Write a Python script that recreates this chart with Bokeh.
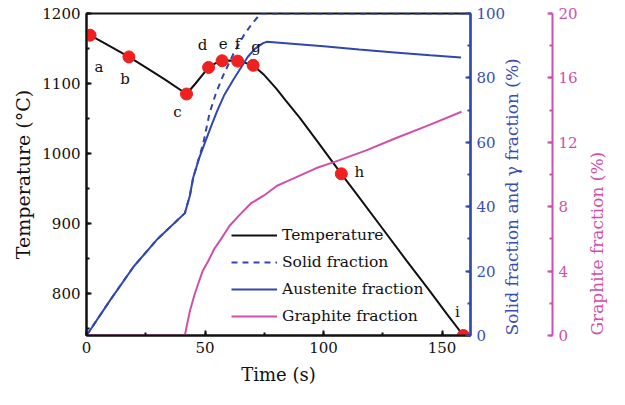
import math
from bokeh.plotting import figure
from bokeh.models import (Range1d, LinearAxis, SingleIntervalTicker, FixedTicker,
                          Legend, LegendItem, ColumnDataSource)
from bokeh.core.properties import value
from bokeh.embed import file_html
from bokeh.resources import INLINE

# ---------------- data ----------------
temp_time = [1.5, 10, 17.9, 25, 33, 42.2, 46, 51.5, 54.5, 57.2, 60.5, 63.75, 67, 70.3,
             75, 80, 84, 90, 97, 107.5, 113.75, 125.5, 135, 144.3, 152, 159]
temp_vals = [1169, 1153, 1138, 1123, 1106, 1085, 1100, 1123, 1129, 1132.5, 1133, 1132, 1129.5, 1126,
             1112, 1093, 1076, 1051, 1019, 971, 943, 890, 847, 806, 771, 740]

solid_time = [0, 10, 20, 30, 41.5, 43.6, 45, 47, 49.2, 51.9, 54.5, 57.5, 62, 66.5, 70, 73.5, 162]
solid_vals = [0, 11, 21.5, 30, 38, 43.4, 49, 54, 59.5, 69, 75, 80.5, 87.5, 93.4, 97, 100, 100]

aus_time = [0, 10, 20, 30, 41.5, 43.6, 45, 47.5, 50, 52.6, 55, 58, 62, 65, 68, 71, 74.5, 76,
            88, 100, 115, 130, 145, 158]
aus_vals = [0, 11, 21.5, 30, 38, 43.4, 49, 55, 60, 65, 69.5, 74.5, 79.5, 83, 86.5, 89, 90.8, 91.2,
            90.5, 89.8, 88.8, 87.9, 87.0, 86.3]

gra_time = [0, 41.5, 42.3, 43.6, 45.5, 47.1, 49, 51.25, 54, 56.8, 60.3, 64, 69.3, 74.9, 80.4, 85,
            97, 105, 118, 130.4, 145, 158.2]
gra_vals = [0, 0, 0.6, 1.5, 2.5, 3.2, 4.0, 4.6, 5.4, 6.0, 6.8, 7.4, 8.2, 8.7, 9.3, 9.6,
            10.4, 10.8, 11.5, 12.25, 13.1, 13.9]

point_time = [1.5, 17.9, 42.2, 51.5, 57.2, 63.75, 70.3, 107.5, 159]
point_temp = [1169, 1138, 1085, 1123, 1132.5, 1132, 1126, 971, 740]
point_labels = ["a", "b", "c", "d", "e", "f", "g", "h", "i"]
# label offsets in screen pixels (style only)
label_dx = [9, -4, -9, -6, 1, 0, 3, 18, -6]
label_dy = [32, 22, 18, -22, -17, -17, -18, -2, -24]

x_min, x_max = 0, 162
t_min, t_max = 740, 1200

# ---------------- styling ----------------
FONT = "DejaVu Serif"
BLACK = "#111111"
BLUE = "#3047B0"
BLUE_TXT = "#3A4DB5"
MAG = "#CF4FAA"
RED = "#EE2020"

p = figure(frame_width=384, frame_height=322,
           x_range=Range1d(x_min, x_max), y_range=Range1d(t_min, t_max),
           output_backend="svg", toolbar_location=None,
           min_border_left=86, min_border_top=13, min_border_bottom=54, min_border_right=139)
p.extra_y_ranges = {"frac": Range1d(0, 100), "gra": Range1d(0, 20)}
p.grid.visible = False
p.outline_line_color = BLACK
p.outline_line_width = 2
p.background_fill_color = "white"
p.border_fill_color = "white"

PROPS = LinearAxis.properties()


def style_axis(ax, color, label_standoff, title_standoff, title_size):
    ax.axis_line_color = color
    ax.axis_line_width = 2
    ax.major_tick_line_color = color
    ax.minor_tick_line_color = color
    ax.major_tick_line_width = 2
    ax.minor_tick_line_width = 2
    ax.major_tick_in = 5
    ax.major_tick_out = 0
    ax.minor_tick_in = 3
    ax.minor_tick_out = 0
    ax.major_label_text_font = FONT
    ax.major_label_text_font_size = "15px"
    ax.major_label_text_color = color
    ax.major_label_standoff = label_standoff
    ax.axis_label_text_font = FONT
    ax.axis_label_text_font_size = title_size
    ax.axis_label_text_font_style = "normal"
    ax.axis_label_text_color = color
    ax.axis_label_standoff = title_standoff


# bottom axis
xa = p.xaxis[0]
xa.ticker = SingleIntervalTicker(interval=50, num_minor_ticks=2)
xa.axis_label = "Time (s)"
style_axis(xa, BLACK, 6, 8, "18px")

# left axis
ya = p.yaxis[0]
ya.ticker = SingleIntervalTicker(interval=100, num_minor_ticks=2)
ya.axis_label = "Temperature (°C)"
style_axis(ya, BLACK, 6, 5, "19px")

# right axis 1 (fractions)
ax_frac = LinearAxis(y_range_name="frac",
                     ticker=SingleIntervalTicker(interval=20, num_minor_ticks=2),
                     axis_label="Solid fraction and γ fraction (%)")
style_axis(ax_frac, BLUE, 6, 4, "17px")
ax_frac.major_label_text_color = BLUE_TXT
ax_frac.axis_label_text_color = BLUE_TXT
p.add_layout(ax_frac, "right")

# spacer axis (invisible, only reserves room between the two right axes)
spacer = LinearAxis(y_range_name="gra", ticker=FixedTicker(ticks=[10]),
                    major_label_overrides={10: ""},
                    axis_line_color=None, major_tick_line_color=None,
                    minor_tick_line_color=None,
                    major_tick_out=17, major_tick_in=0, minor_tick_out=0, minor_tick_in=0,
                    major_label_standoff=0)
p.add_layout(spacer, "right")

# right axis 2 (graphite)
ax_gra = LinearAxis(y_range_name="gra",
                    ticker=SingleIntervalTicker(interval=4, num_minor_ticks=2),
                    axis_label="Graphite fraction (%)")
style_axis(ax_gra, MAG, 6, 16, "17px")
p.add_layout(ax_gra, "right")

if "axis_label_orientation" in PROPS:
    for ax in (ax_frac, ax_gra):
        ax.axis_label_orientation = math.pi / 2
        if "axis_label_align" in PROPS:
            for v in ("start", "left"):
                try:
                    ax.axis_label_align = v
                    break
                except ValueError:
                    pass

# ---------------- glyphs ----------------
r_temp = p.line(temp_time, temp_vals, line_color=BLACK, line_width=2)
r_solid = p.line(solid_time, solid_vals, y_range_name="frac", line_color=BLUE,
                 line_width=2, line_dash="6 5")
r_aus = p.line(aus_time, aus_vals, y_range_name="frac", line_color=BLUE, line_width=2)
r_gra = p.line(gra_time, gra_vals, y_range_name="gra", line_color=MAG, line_width=2)

p.scatter(point_time, point_temp, size=12, fill_color=RED, line_color=RED)

src = ColumnDataSource(dict(x=point_time, y=point_temp, t=point_labels,
                            dx=label_dx, dy=label_dy))
p.text(x="x", y="y", text="t", x_offset="dx", y_offset="dy", source=src,
       text_font=value(FONT), text_font_size="15px", text_color=BLACK,
       text_align="center", text_baseline="middle")

legend = Legend(items=[LegendItem(label="Temperature", renderers=[r_temp]),
                       LegendItem(label="Solid fraction", renderers=[r_solid]),
                       LegendItem(label="Austenite fraction", renderers=[r_aus]),
                       LegendItem(label="Graphite fraction", renderers=[r_gra])],
                location=(145, 9), border_line_color=None, background_fill_alpha=0,
                padding=0, margin=0, spacing=7, glyph_width=46, glyph_height=20,
                label_height=20, label_standoff=5,
                label_text_font=FONT, label_text_font_size="15.5px",
                label_text_color=BLACK)
p.add_layout(legend)

open("out.html", "w").write(file_html(p, INLINE))
